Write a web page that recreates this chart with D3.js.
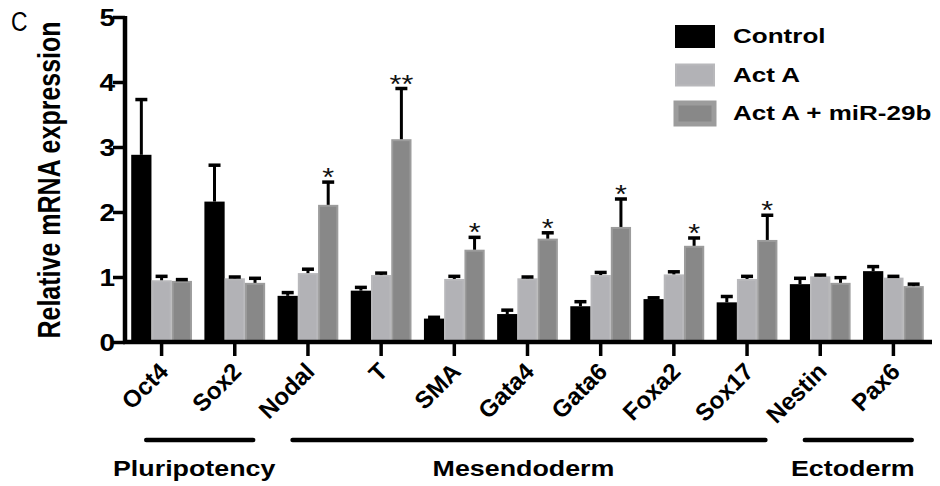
<!DOCTYPE html>
<meta charset="utf-8">
<script src="https://d3js.org/d3.v7.min.js"></script>
<style>
  body { margin: 0; background: #fff; }
  text { font-family: "Liberation Sans", Arial, sans-serif; }
</style>
<div id="my_dataviz"></div>
<script>

// data
var genes = ["Oct4", "Sox2", "Nodal", "T", "SMA", "Gata4", "Gata6", "Foxa2", "Sox17", "Nestin", "Pax6"];
var series = ["Control", "Act A", "Act A + miR-29b"];

var control      = [2.88, 2.16, 0.71, 0.79, 0.36, 0.43, 0.55, 0.66, 0.61, 0.89, 1.09];
var controlErr   = [0.85, 0.56, 0.05, 0.05, 0.02, 0.06, 0.07, 0.02, 0.09, 0.09, 0.07];
var actA         = [0.95, 0.98, 1.06, 1.03, 0.97, 0.98, 1.03, 1.04, 0.97, 1.01, 0.99];
var actAErr      = [0.06, 0.02, 0.06, 0.03, 0.04, 0.02, 0.04, 0.04, 0.04, 0.02, 0.02];
var mir          = [0.94, 0.91, 2.11, 3.12, 1.42, 1.59, 1.77, 1.48, 1.57, 0.91, 0.86];
var mirErr       = [0.02, 0.07, 0.35, 0.78, 0.19, 0.09, 0.43, 0.12, 0.38, 0.08, 0.03];
var stars        = ["", "", "*", "**", "*", "*", "*", "*", "*", "", ""];

var yTicks = [0, 1, 2, 3, 4, 5];

var groups = [
  {name: "Pluripotency", from: "Oct4", to: "Sox2"},
  {name: "Mesendoderm", from: "Nodal", to: "Sox17"},
  {name: "Ectoderm", from: "Nestin", to: "Pax6"}
];

var colors = ["#000000", "#b2b2b6", "#888888"];
var strokes = ["#000000", "#b8b8bb", "#9c9c9c"];

// the original figure is a bit stretched sideways, so the text is too
var sx = 1.22;

var width = 940, height = 486;

var svg = d3.select("#my_dataviz")
  .append("svg")
  .attr("width", width)
  .attr("height", height);

// scales
var x = d3.scaleBand()
  .domain(genes)
  .range([125, 930])
  .paddingInner(0.17)
  .paddingOuter(0.085);

var x1 = d3.scaleBand()
  .domain(series)
  .range([0, x.bandwidth()]);

var y = d3.scaleLinear()
  .domain([0, 5])
  .range([342, 17]);

// build rows for the bars
var values = [control, actA, mir];
var errs = [controlErr, actAErr, mirErr];
var rows = [];
genes.forEach(function(g, i) {
  series.forEach(function(s, j) {
    rows.push({gene: g, key: s, k: j, value: values[j][i], err: errs[j][i]});
  });
});

// bars
svg.append("g")
  .selectAll("rect")
  .data(rows)
  .enter().append("rect")
    .attr("x", function(d) { return x(d.gene) + x1(d.key) + 1; })
    .attr("y", function(d) { return y(d.value) + 1; })
    .attr("width", x1.bandwidth() - 2)
    .attr("height", function(d) { return y(0) - y(d.value) - 1; })
    .attr("fill", function(d) { return colors[d.k]; })
    .attr("stroke", function(d) { return strokes[d.k]; })
    .attr("stroke-width", 2);

// error bars (upper only)
var eb = svg.append("g")
  .selectAll("g")
  .data(rows)
  .enter().append("g")
    .attr("transform", function(d) { return "translate(" + (x(d.gene) + x1(d.key) + x1.bandwidth() / 2) + ",0)"; });

eb.append("line")
  .attr("y1", function(d) { return y(d.value); })
  .attr("y2", function(d) { return y(d.value + d.err); })
  .attr("stroke", "#000")
  .attr("stroke-width", 3);

eb.append("line")
  .attr("x1", -6)
  .attr("x2", 6)
  .attr("y1", function(d) { return y(d.value + d.err); })
  .attr("y2", function(d) { return y(d.value + d.err); })
  .attr("stroke", "#000")
  .attr("stroke-width", 3.5);

// significance stars above the miR-29b bars
svg.append("g")
  .selectAll("text")
  .data(genes)
  .enter().append("text")
    .attr("transform", function(d, i) {
      return "translate(" + (x(d) + x1("Act A + miR-29b") + x1.bandwidth() / 2) + "," + (y(mir[i] + mirErr[i]) + 4) + ")scale(" + sx + ",1)";
    })
    .attr("text-anchor", "middle")
    .attr("font-size", 25)
    .attr("fill", "#111")
    .text(function(d, i) { return stars[i]; });

// Y axis
var yAxis = svg.append("g")
  .attr("transform", "translate(125,0)")
  .call(d3.axisLeft(y).tickValues(yTicks).tickFormat(d3.format("d")).tickSize(12).tickSizeOuter(0).tickPadding(0));
yAxis.select(".domain").attr("stroke-width", 4.5).attr("d", "M0," + (y(0) + 2) + "V" + (y(5) - 1));
yAxis.selectAll(".tick line").attr("stroke-width", 3.5);
yAxis.selectAll(".tick text")
  .attr("x", null)
  .attr("transform", "translate(-10,0)scale(" + sx + ",1)")
  .attr("dy", "0.36em")
  .attr("font-size", 23)
  .attr("font-weight", "bold")
  .attr("font-family", "Liberation Sans, Arial, sans-serif")
  .attr("fill", "#000");

// X axis
var xAxis = svg.append("g")
  .attr("transform", "translate(0," + y(0) + ")")
  .call(d3.axisBottom(x).tickSize(14).tickSizeOuter(0).tickFormat(""));
xAxis.select(".domain").attr("stroke-width", 4.5).attr("d", "M123,0H932");
xAxis.selectAll(".tick line").attr("stroke-width", 3.5);

// rotated gene labels
svg.append("g")
  .selectAll("text")
  .data(genes)
  .enter().append("text")
    .attr("transform", function(d) { return "translate(" + (x(d) + x.bandwidth() / 2 + 8) + "," + (y(0) + 31) + ") rotate(-45)"; })
    .attr("text-anchor", "end")
    .attr("font-size", 24)
    .attr("font-weight", "bold")
    .text(function(d) { return d; });

// group brackets
var gb = svg.append("g")
  .selectAll("g")
  .data(groups)
  .enter().append("g");

gb.append("line")
  .attr("x1", function(d) { return x(d.from) + 15; })
  .attr("x2", function(d) { return x(d.to) + x.bandwidth() - 12; })
  .attr("y1", 440)
  .attr("y2", 440)
  .attr("stroke", "#000")
  .attr("stroke-width", 4.5)
  .attr("stroke-linecap", "round");

gb.append("text")
  .attr("transform", function(d) { return "translate(" + ((x(d.from) + x(d.to) + x.bandwidth()) / 2 - 4) + ",476)scale(" + sx + ",1)"; })
  .attr("text-anchor", "middle")
  .attr("font-size", 22)
  .attr("font-weight", "bold")
  .text(function(d) { return d.name; });

// Y axis title
svg.append("text")
  .attr("transform", "translate(60,180)scale(" + sx + ",1)rotate(-90)")
  .attr("text-anchor", "middle")
  .attr("font-size", 25)
  .attr("font-weight", "bold")
  .text("Relative mRNA expression");

// panel letter
svg.append("text")
  .attr("transform", "translate(11,31)scale(0.85,1)")
  .attr("font-size", 27)
  .attr("font-family", "Open Sans, sans-serif")
  .text("C");

// legend
var legend = svg.append("g")
  .selectAll("g")
  .data(series)
  .enter().append("g")
    .attr("transform", function(d, i) { return "translate(675," + (25 + i * 38.5) + ")"; });

legend.append("rect")
  .attr("x", 1)
  .attr("y", 1)
  .attr("width", 38)
  .attr("height", 21)
  .attr("fill", function(d, i) { return colors[i]; })
  .attr("stroke", function(d, i) { return strokes[i]; })
  .attr("stroke-width", function(d, i) { return i == 2 ? 5 : 2; });

legend.append("text")
  .attr("transform", "translate(58,18)scale(1.24,1)")
  .attr("font-size", 21)
  .attr("font-weight", "bold")
  .text(function(d) { return d; });

</script>
